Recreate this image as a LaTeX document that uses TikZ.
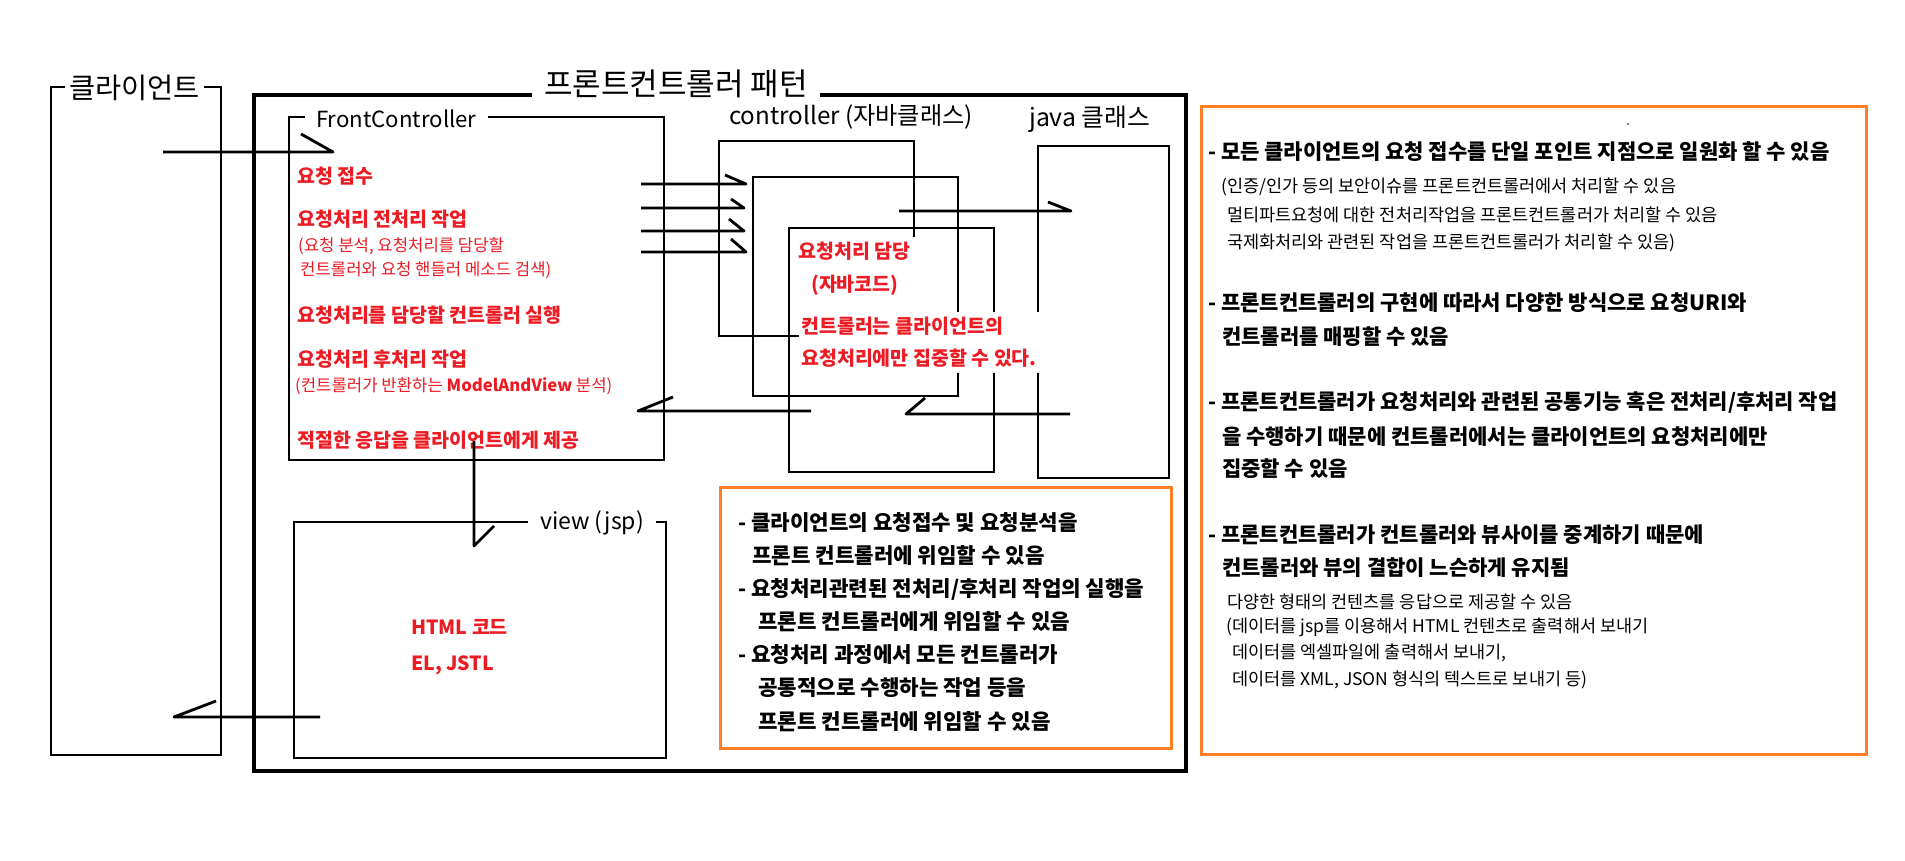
\documentclass[tikz,border=0pt]{standalone}
\usepackage{fontspec}
\setmainfont{Noto Sans CJK KR}
\newcommand\fsz[1]{\fontsize{#1}{#1}\selectfont}
\definecolor{redC}{RGB}{237,28,36}
\definecolor{orangeC}{RGB}{255,127,39}
\tikzset{
  thinbox/.style={draw=black, line width=1.1pt},
  thickbox/.style={draw=black, line width=3.2pt},
  arr/.style={draw=black, line width=2.8pt, line join=round},
  orangebox/.style={draw=orangeC, line width=3pt},
  redb/.style={anchor=west, inner sep=0pt, text=redC, font=\bfseries\fsz{19.5}},
  reds/.style={anchor=west, inner sep=0pt, text=redC, font=\fsz{16.7}},
  blkm/.style={anchor=west, inner sep=0pt, font=\bfseries\fsz{21.2}},
  blk/.style={anchor=west, inner sep=0pt, font=\bfseries\fsz{21}},
  blks/.style={anchor=west, inner sep=0pt, font=\fsz{17.5}},
  boxlabel/.style={anchor=west, fill=white, inner ysep=3pt}
}
\begin{document}
\begin{tikzpicture}[x=1pt,y=-1pt]
\useasboundingbox[fill=white] (0,0) rectangle (1905,861);

% ---- boxes ----
\draw[thinbox] (51,87) rectangle (221,755);            % client
\draw[thickbox] (254,95) rectangle (1186,771);         % front controller pattern
\draw[thinbox] (289,117) rectangle (664,460);          % FrontController
\draw[thinbox] (914,237) -- (914,141) -- (719,141) -- (719,336) -- (799,336); % controller A
\draw[thinbox] (753,177) rectangle (958,396);          % controller B
\draw[thinbox] (789,228) rectangle (994,472);          % controller C
\draw[thinbox] (1038,146) rectangle (1169,478);        % java class
\draw[thinbox] (294,522) rectangle (666,758);          % view
\draw[orangebox] (720,487) rectangle (1171,748);
\draw[orangebox] (1201,107) rectangle (1866,754);
\fill (1628,124) circle (0.8);

% ---- box labels ----
\node[boxlabel, inner xsep=4pt, font=\fsz{28.4}] (clientlbl) at (65,88) {클라이언트};
\node[boxlabel, inner xsep=12pt, font=\fsz{31}] (titlelbl) at (532,84) {프론트컨트롤러 패턴};
\node[boxlabel, inner xsep=11pt, font=\fsz{22.2}] (fclbl) at (305,119) {FrontController};
\node[anchor=west, inner sep=0pt, font=\fsz{24.2}] (ctrllbl) at (729,117) {controller (자바클래스)};
\node[anchor=west, inner sep=0pt, font=\fsz{24.8}] (javalbl) at (1029,119) {java 클래스};
\node[boxlabel, inner xsep=12pt, font=\fsz{23}] (viewlbl) at (528,523) {view (jsp)};

% ---- FrontController texts ----
\node[redb] (fc1) at (297,176) {요청 접수};
\node[redb] (fc2) at (297,219) {요청처리 전처리 작업};
\node[reds] (fc3) at (298,246) {(요청 분석, 요청처리를 담당할};
\node[reds] (fc4) at (300,270) {컨트롤러와 요청 핸들러 메소드 검색)};
\node[redb] (fc5) at (297,315) {요청처리를 담당할 컨트롤러 실행};
\node[redb] (fc6) at (297,359) {요청처리 후처리 작업};
\node[reds] (fc7) at (295,386) {(컨트롤러가 반환하는 \textbf{ModelAndView} 분석)};
\node[redb] (fc8) at (297,440) {적절한 응답을 클라이언트에게 제공};

% ---- controller texts ----
\node[redb] (ct1) at (798,251) {요청처리 담당};
\node[redb] (ct2) at (811,285) {(자바코드)};
\node[redb, anchor=north west, align=left, fill=white, inner xsep=2pt, inner ysep=5pt,
      font=\bfseries\fontsize{19.5}{32}\selectfont] (ct3) at (799,312)
      {컨트롤러는 클라이언트의\\요청처리에만 집중할 수 있다.};

% ---- view texts ----
\node[redb] (v1) at (411,627) {HTML 코드};
\node[redb] (v2) at (411,665) {EL, JSTL};

% ---- middle orange box ----
\node[blkm] (m1) at (738,523) {- 클라이언트의 요청접수 및 요청분석을};
\node[blkm] (m2) at (752,556) {프론트 컨트롤러에 위임할 수 있음};
\node[blkm] (m3) at (738,589) {- 요청처리관련된 전처리/후처리 작업의 실행을};
\node[blkm] (m4) at (758,622) {프론트 컨트롤러에게 위임할 수 있음};
\node[blkm] (m5) at (738,655) {- 요청처리 과정에서 모든 컨트롤러가};
\node[blkm] (m6) at (758,688) {공통적으로 수행하는 작업 등을};
\node[blkm] (m7) at (758,722) {프론트 컨트롤러에 위임할 수 있음};

% ---- right orange box ----
\node[blk] (r1) at (1208,152) {- 모든 클라이언트의 요청 접수를 단일 포인트 지점으로 일원화 할 수 있음};
\node[blks] (r2) at (1221,187) {(인증/인가 등의 보안이슈를 프론트컨트롤러에서 처리할 수 있음};
\node[blks] (r3) at (1227,215) {멀티파트요청에 대한 전처리작업을 프론트컨트롤러가 처리할 수 있음};
\node[blks] (r4) at (1227,243) {국제화처리와 관련된 작업을 프론트컨트롤러가 처리할 수 있음)};
\node[blk] (r5) at (1208,303) {- 프론트컨트롤러의 구현에 따라서 다양한 방식으로 요청URI와};
\node[blk] (r6) at (1222,337) {컨트롤러를 매핑할 수 있음};
\node[blk] (r7) at (1208,403) {- 프론트컨트롤러가 요청처리와 관련된 공통기능 혹은 전처리/후처리 작업};
\node[blk] (r8) at (1222,437) {을 수행하기 때문에 컨트롤러에서는 클라이언트의 요청처리에만};
\node[blk] (r9) at (1222,469) {집중할 수 있음};
\node[blk] (r10) at (1208,535) {- 프론트컨트롤러가 컨트롤러와 뷰사이를 중계하기 때문에};
\node[blk] (r11) at (1222,568) {컨트롤러와 뷰의 결합이 느슨하게 유지됨};
\node[blks] (r12) at (1227,602) {다양한 형태의 컨텐츠를 응답으로 제공할 수 있음};
\node[blks] (r13) at (1226,627) {(데이터를 jsp를 이용해서 HTML 컨텐츠로 출력해서 보내기};
\node[blks] (r14) at (1232,653) {데이터를 엑셀파일에 출력해서 보내기,};
\node[blks] (r15) at (1232,680) {데이터를 XML, JSON 형식의 텍스트로 보내기 등)};

% ---- arrows ----
\coordinate (a0s) at (163,152); \coordinate (a0e) at (333,152); \coordinate (a0b) at (301,134);
\coordinate (a1s) at (641,184); \coordinate (a1e) at (746,184); \coordinate (a1b) at (725,175);
\coordinate (a2s) at (641,208); \coordinate (a2e) at (744,208); \coordinate (a2b) at (731,199);
\coordinate (a3s) at (641,231); \coordinate (a3e) at (744,231); \coordinate (a3b) at (729,219);
\coordinate (a4s) at (641,252); \coordinate (a4e) at (746,252); \coordinate (a4b) at (731,239);
\coordinate (a5s) at (899,211); \coordinate (a5e) at (1071,211); \coordinate (a5b) at (1048,202);
\coordinate (a6s) at (1070,414); \coordinate (a6e) at (906,414); \coordinate (a6b) at (925,398);
\coordinate (a7s) at (811,411); \coordinate (a7e) at (638,411); \coordinate (a7b) at (673,397);
\coordinate (a8s) at (474,441); \coordinate (a8e) at (474,546); \coordinate (a8b) at (494,526);
\coordinate (a9s) at (320,717); \coordinate (a9e) at (174,717); \coordinate (a9b) at (216,701);
\foreach \i in {0,...,9}{
  \draw[arr] (a\i s) -- (a\i e) -- (a\i b);
}
\end{tikzpicture}
\end{document}
